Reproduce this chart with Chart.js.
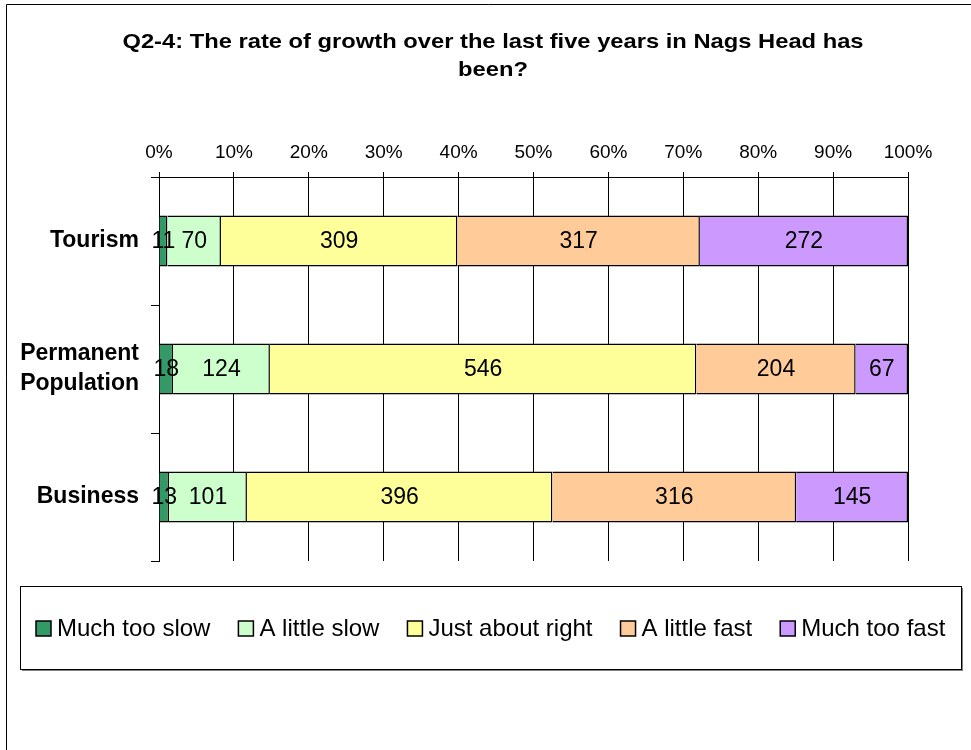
<!doctype html>
<html>
<head>
<meta charset="utf-8">
<title>Q2-4 growth rate</title>
<script src="https://cdn.jsdelivr.net/npm/chart.js@4"></script>
<style>
  body { margin: 0; background: #fff; }
  #wrap { position: relative; width: 971px; height: 750px; }
</style>
</head>
<body>
<div id="wrap"><canvas id="chart"></canvas></div>
<script>
// categories and answer counts
var categories = ['Tourism', ['Permanent', 'Population'], 'Business'];
var seriesNames = ['Much too slow', 'A little slow', 'Just about right', 'A little fast', 'Much too fast'];
var muchTooSlow = [11, 18, 13];
var littleSlow = [70, 124, 101];
var aboutRight = [309, 546, 396];
var littleFast = [317, 204, 316];
var muchTooFast = [272, 67, 145];
var tickValues = [0, 10, 20, 30, 40, 50, 60, 70, 80, 90, 100];
var titleLines = ['Q2-4: The rate of growth over the last five years in Nags Head has', 'been?'];

var counts = [muchTooSlow, littleSlow, aboutRight, littleFast, muchTooFast];
var colors = ['#339966', '#CCFFCC', '#FFFF99', '#FFCC99', '#CC99FF'];
var FONT = 'Arial, "Liberation Sans", sans-serif';

var totals = categories.map(function(c, i) {
    var s = 0;
    for (var k = 0; k < counts.length; k++) s += counts[k][i];
    return s;
});

var datasets = counts.map(function(arr, k) {
    return {
        label: seriesNames[k],
        data: arr.map(function(v, i) { return v / totals[i] * 100; }),
        raw: arr,
        backgroundColor: colors[k],
        borderColor: '#000',
        borderWidth: 1.5,
        barPercentage: 1,
        categoryPercentage: 0.4
    };
});

// frame, title, value labels and legend box
var decor = {
    id: 'decor',
    beforeDraw: function(chart) {
        var ctx = chart.ctx;
        ctx.save();
        ctx.fillStyle = '#fff';
        ctx.fillRect(0, 0, chart.width, chart.height);
        ctx.strokeStyle = '#000';
        ctx.lineWidth = 1;
        ctx.beginPath();
        ctx.moveTo(6.5, chart.height);
        ctx.lineTo(6.5, 4.5);
        ctx.lineTo(chart.width, 4.5);
        ctx.stroke();
        ctx.fillStyle = '#000';
        ctx.font = 'bold 21px ' + FONT;
        ctx.textAlign = 'center';
        ctx.textBaseline = 'alphabetic';
        // the original title is a bit wider than plain Arial
        [48, 76].forEach(function(y, i) {
            ctx.save();
            ctx.translate(493, y);
            ctx.scale(1.13, 1);
            ctx.fillText(titleLines[i], 0, 0);
            ctx.restore();
        });
        ctx.restore();
    },
    afterDatasetsDraw: function(chart) {
        var ctx = chart.ctx;
        ctx.save();
        ctx.font = '23px ' + FONT;
        ctx.fillStyle = '#000';
        ctx.textAlign = 'center';
        ctx.textBaseline = 'middle';
        chart.data.datasets.forEach(function(ds, k) {
            chart.getDatasetMeta(k).data.forEach(function(bar, i) {
                ctx.fillText(String(ds.raw[i]), (bar.x + bar.base) / 2, bar.y + 1);
            });
        });
        ctx.restore();
    },
    afterDraw: function(chart) {
        var ctx = chart.ctx;
        var bx = 20, by = 586, bw = 941, bh = 83;
        ctx.save();
        ctx.strokeStyle = '#808080';
        ctx.lineWidth = 2;
        ctx.beginPath();
        ctx.moveTo(bx + 2, by + bh + 1);
        ctx.lineTo(bx + bw + 1, by + bh + 1);
        ctx.lineTo(bx + bw + 1, by + 2);
        ctx.stroke();
        ctx.strokeStyle = '#000';
        ctx.lineWidth = 1;
        ctx.strokeRect(bx + 0.5, by + 0.5, bw, bh);

        ctx.font = '24px ' + FONT;
        var sq = 15, gapText = 6, gapItem = 28;
        var total = 0;
        var widths = chart.data.datasets.map(function(ds) {
            var w = ctx.measureText(ds.label).width;
            total += sq + gapText + w;
            return w;
        });
        total += gapItem * (widths.length - 1);
        var x = Math.round(bx + (bw - total) / 2);
        var cy = by + bh / 2 + 1;
        ctx.textBaseline = 'middle';
        ctx.textAlign = 'left';
        chart.data.datasets.forEach(function(ds, k) {
            ctx.fillStyle = ds.backgroundColor;
            ctx.fillRect(x, cy - sq / 2, sq, sq);
            ctx.strokeStyle = '#000';
            ctx.lineWidth = 1.5;
            ctx.strokeRect(x, cy - sq / 2, sq, sq);
            ctx.fillStyle = '#000';
            ctx.fillText(ds.label, x + sq + gapText, cy + 1);
            x += sq + gapText + widths[k] + gapItem;
        });
        ctx.restore();
    }
};

new Chart(document.getElementById('chart'), {
    type: 'bar',
    data: { labels: categories, datasets: datasets },
    plugins: [decor],
    options: {
        indexAxis: 'y',
        responsive: true,
        maintainAspectRatio: false,
        animation: false,
        layout: { padding: { left: 0, top: 0, right: 63, bottom: 189 } },
        plugins: {
            legend: { display: false },
            title: { display: false },
            tooltip: { enabled: false }
        },
        scales: {
            x: {
                position: 'top',
                stacked: true,
                min: 0,
                max: 100,
                afterFit: function(s) { s.height = 177; },
                afterBuildTicks: function(s) {
                    s.ticks = tickValues.map(function(v) { return { value: v }; });
                },
                ticks: {
                    padding: 8,
                    color: '#000',
                    font: { family: FONT, size: 19 },
                    callback: function(v) { return v + '%'; }
                },
                grid: { color: '#000', lineWidth: 1, tickLength: 5, drawTicks: true },
                border: { color: '#000', width: 1 }
            },
            y: {
                stacked: true,
                afterFit: function(s) { s.width = 159; },
                ticks: {
                    padding: 12,
                    color: '#000',
                    font: { family: FONT, size: 23, weight: 'bold', lineHeight: 1.3 }
                },
                grid: { offset: true, drawOnChartArea: false, color: '#000', tickLength: 8 },
                border: { color: '#000', width: 1 }
            }
        }
    }
});
</script>
</body>
</html>
